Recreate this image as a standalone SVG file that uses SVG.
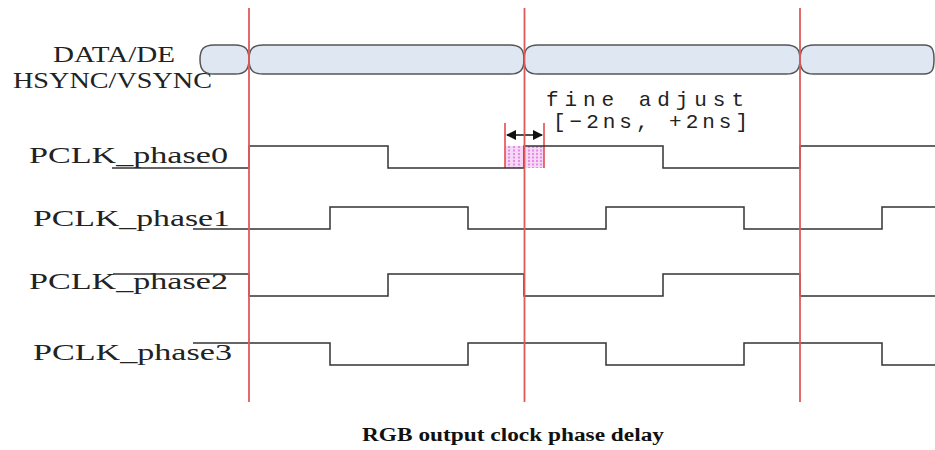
<svg xmlns="http://www.w3.org/2000/svg" width="935" height="450" viewBox="0 0 935 450">
  <style>
    .lbl { font-family: "Liberation Serif", "DejaVu Serif", serif; font-size: 24px; fill: #222; }
    .note { font-family: "Liberation Mono", "DejaVu Sans Mono", monospace; font-size: 21px; fill: #222; }
    .cap { font-family: "Liberation Serif", "DejaVu Serif", serif; font-size: 18px; font-weight: bold; fill: #111; }
    .wave { fill: none; stroke: #333; stroke-width: 1.5; }
    .bus { fill: #dfe7f3; stroke: #555; stroke-width: 1.5; }
    .marker-line { stroke: #e05a5a; stroke-width: 1.8; }
    .tick { stroke: #e04040; stroke-width: 1.5; }
    .hatch { stroke: #d040d0; stroke-width: 1; stroke-dasharray: 2 1.5; }
  </style>
  <defs>
    <marker id="arrow" viewBox="0 0 10 10" refX="9" refY="5" markerWidth="7" markerHeight="7" orient="auto-start-reverse">
      <path d="M0,0 L10,5 L0,10 Z" fill="#111"/>
    </marker>
  </defs>

  <rect width="935" height="450" fill="#fff"/>

  <!-- signal names -->
  <g id="labels">
    <text class="lbl" x="53" y="62" textLength="122" lengthAdjust="spacingAndGlyphs">DATA/DE</text>
    <text class="lbl" x="13" y="88" textLength="199" lengthAdjust="spacingAndGlyphs">HSYNC/VSYNC</text>
    <text class="lbl" x="29" y="163" textLength="199" lengthAdjust="spacingAndGlyphs">PCLK_phase0</text>
    <text class="lbl" x="33" y="226" textLength="197" lengthAdjust="spacingAndGlyphs">PCLK_phase1</text>
    <text class="lbl" x="29" y="289" textLength="199" lengthAdjust="spacingAndGlyphs">PCLK_phase2</text>
    <text class="lbl" x="33" y="360" textLength="199" lengthAdjust="spacingAndGlyphs">PCLK_phase3</text>
  </g>

  <!-- data bus segments -->
  <g id="bus">
    <path class="bus" d="M200 59.5 C200 49 204 45 214 45 L235 45 C245 45 249 49 249 59.5 C249 70 245 74 235 74 L214 74 C204 74 200 70 200 59.5 Z"/>
    <path class="bus" d="M249 59.5 C249 49 253 45 263 45 L510 45 C520 45 524 49 524 59.5 C524 70 520 74 510 74 L263 74 C253 74 249 70 249 59.5 Z"/>
    <path class="bus" d="M524 59.5 C524 49 528 45 538 45 L786 45 C796 45 800 49 800 59.5 C800 70 796 74 786 74 L538 74 C528 74 524 70 524 59.5 Z"/>
    <path class="bus" d="M800 59.5 C800 49 804 45 814 45 L924 45 C932 45 934 49 934 59.5 C934 70 932 74 924 74 L814 74 C804 74 800 70 800 59.5 Z"/>
  </g>

  <!-- fine adjust window -->
  <g id="fine-adjust">
    <rect x="505" y="146" width="39" height="22" fill="#f6d8f6"/>
    <line class="hatch" x1="509" y1="146" x2="509" y2="168"/>
    <line class="hatch" x1="514" y1="146" x2="514" y2="168"/>
    <line class="hatch" x1="519" y1="146" x2="519" y2="168"/>
    <line class="hatch" x1="529" y1="146" x2="529" y2="168"/>
    <line class="hatch" x1="533" y1="146" x2="533" y2="168"/>
    <line class="hatch" x1="537" y1="146" x2="537" y2="168"/>
    <line class="hatch" x1="541" y1="146" x2="541" y2="168"/>
    <line class="tick" x1="505" y1="123" x2="505" y2="168"/>
    <line class="tick" x1="544" y1="123" x2="544" y2="168"/>
    <line x1="507" y1="135" x2="542" y2="135" stroke="#111" stroke-width="1.5" marker-start="url(#arrow)" marker-end="url(#arrow)"/>
    <text class="note" x="546" y="106" textLength="198" lengthAdjust="spacing">fine adjust</text>
    <text class="note" x="553" y="128" textLength="195" lengthAdjust="spacing">[−2ns, +2ns]</text>
  </g>

  <!-- clock waveforms -->
  <g id="waveforms">
    <path id="phase0" class="wave" d="M112 168 H249 V146 H388 V168 H524 V146 H663 V168 H800 V146 H935"/>
    <path id="phase1" class="wave" d="M193 229 H330 V207 H468 V229 H606 V207 H744 V229 H882 V207 H935"/>
    <path id="phase2" class="wave" d="M113 274 H249 V296 H388 V274 H524 V296 H663 V274 H800 V296 H935"/>
    <path id="phase3" class="wave" d="M193 343 H330 V365 H468 V343 H606 V365 H744 V343 H882 V365 H935"/>
  </g>

  <!-- reference edges -->
  <g id="edges">
    <line class="marker-line" x1="249" y1="8" x2="249" y2="402"/>
    <line class="marker-line" x1="524.5" y1="8" x2="524.5" y2="402"/>
    <line class="marker-line" x1="800" y1="8" x2="800" y2="402"/>
  </g>

  <text class="cap" x="362" y="441" textLength="302" lengthAdjust="spacingAndGlyphs">RGB output clock phase delay</text>
</svg>
